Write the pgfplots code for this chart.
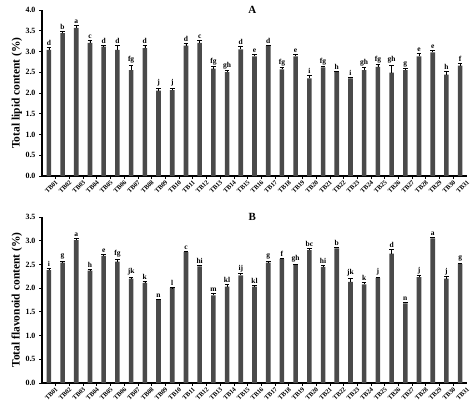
\documentclass[border=0pt]{standalone}
\usepackage{fontspec}
\setmainfont{Liberation Serif}
\usepackage{pgfplots}
\usepackage{pgfplotstable}
\pgfplotsset{compat=1.18}
\definecolor{barg}{HTML}{4A4A4A}

% A: total lipid content
\pgfplotstableread{
x y e lab
1 3.04 0.05 d
2 3.44 0.05 b
3 3.57 0.06 a
4 3.21 0.05 c
5 3.12 0.03 d
6 3.04 0.10 d
7 2.55 0.12 fg
8 3.08 0.06 d
9 2.06 0.06 j
10 2.07 0.05 j
11 3.14 0.05 d
12 3.21 0.06 c
13 2.59 0.05 fg
14 2.50 0.04 gh
15 3.05 0.07 d
16 2.88 0.06 e
17 3.13 0.02 d
18 2.57 0.04 fg
19 2.88 0.06 e
20 2.35 0.08 i
21 2.62 0.02 fg
22 2.50 0.02 h
23 2.35 0.04 i
24 2.55 0.06 gh
25 2.63 0.05 fg
26 2.49 0.18 gh
27 2.55 0.04 g
28 2.88 0.08 e
29 2.98 0.05 e
30 2.44 0.08 h
31 2.66 0.05 f
}\lipid

% B: total flavonoid content
\pgfplotstableread{
x y e lab
1 2.38 0.04 i
2 2.54 0.03 g
3 3.01 0.04 a
4 2.37 0.02 h
5 2.68 0.03 e
6 2.56 0.05 fg
7 2.20 0.03 jk
8 2.11 0.03 k
9 1.75 0.02 n
10 2.00 0.01 l
11 2.76 0.02 c
12 2.46 0.02 hi
13 1.85 0.05 m
14 2.03 0.05 kl
15 2.27 0.04 ij
16 2.03 0.04 kl
17 2.54 0.03 g
18 2.61 0.02 f
19 2.49 0.02 gh
20 2.80 0.04 bc
21 2.45 0.04 hi
22 2.84 0.02 b
23 2.13 0.08 jk
24 2.08 0.04 k
25 2.21 0.02 j
26 2.73 0.08 d
27 1.68 0.03 n
28 2.23 0.04 j
29 3.05 0.03 a
30 2.20 0.04 j
31 2.51 0.02 g
}\flav

\pgfplotsset{
  panel/.style={
    scale only axis, width=425bp, height=166bp,
    anchor=south west, clip=false,
    xmin=0.5, xmax=31.5, ymin=0,
    axis x line*=bottom, axis y line*=left,
    axis line style={line width=1.1pt},
    xtick={1,...,31},
    xticklabels={TB01,TB02,TB03,TB04,TB05,TB06,TB07,TB08,TB09,TB10,TB11,TB12,TB13,TB14,TB15,TB16,TB17,TB18,TB19,TB20,TB21,TB22,TB23,TB24,TB25,TB26,TB27,TB28,TB29,TB30,TB31},
    minor x tick num=1,
    every major x tick/.style={draw=none},
    tick align=outside, tick style={black, line width=0.8pt},
    major tick length=3bp, minor tick length=2.5bp,
    xticklabel style={rotate=45, anchor=north east, inner sep=1pt, xshift=5bp, yshift=-4bp, font=\bfseries\fontsize{6.5}{7}\selectfont},
    yticklabel style={font=\bfseries\fontsize{8}{9}\selectfont},
    /pgf/number format/assume math mode=true,
    yticklabel={\pgfmathprintnumber[fixed, fixed zerofill, precision=1]{\tick}},
  },
  bars/.style={
    ybar, bar width=4.6bp, fill=barg, draw=none,
    error bars/.cd, y dir=plus, y explicit,
    error bar style={black, line width=0.6pt},
    error mark options={rotate=90, mark size=2.3bp, black, line width=0.6pt},
  },
  letters/.style={
    draw=none, nodes near coords, point meta=explicit symbolic,
    nodes near coords style={anchor=south, inner sep=1.5pt, font=\bfseries\fontsize{7.5}{8}\selectfont},
  },
}

\begin{document}
\begin{tikzpicture}[x=1bp,y=1bp]
\useasboundingbox (0,0) rectangle (474,414);

\begin{axis}[panel, at={(42bp,238bp)}, ymax=4, ytick={0,0.5,...,4}]
  \addplot[bars] table[x=x, y=y, y error=e] {\lipid};
  \addplot[letters] table[x=x, y expr=\thisrow{y}+\thisrow{e}, meta=lab] {\lipid};
  \node[font=\bfseries\fontsize{11}{12}\selectfont] at (rel axis cs:0.495,1) {A};
  \node[rotate=90, font=\bfseries\fontsize{11.5}{12}\selectfont] at (rel axis cs:-0.059,0.5) {Total lipid content (\%)};
\end{axis}

\begin{axis}[panel, at={(42bp,31bp)}, ymax=3.5, ytick={0,0.5,...,3.5}]
  \addplot[bars] table[x=x, y=y, y error=e] {\flav};
  \addplot[letters] table[x=x, y expr=\thisrow{y}+\thisrow{e}, meta=lab] {\flav};
  \node[font=\bfseries\fontsize{11}{12}\selectfont] at (rel axis cs:0.495,1) {B};
  \node[rotate=90, font=\bfseries\fontsize{11.5}{12}\selectfont] at (rel axis cs:-0.059,0.5) {Total flavonoid content (\%)};
\end{axis}
\end{tikzpicture}
\end{document}
